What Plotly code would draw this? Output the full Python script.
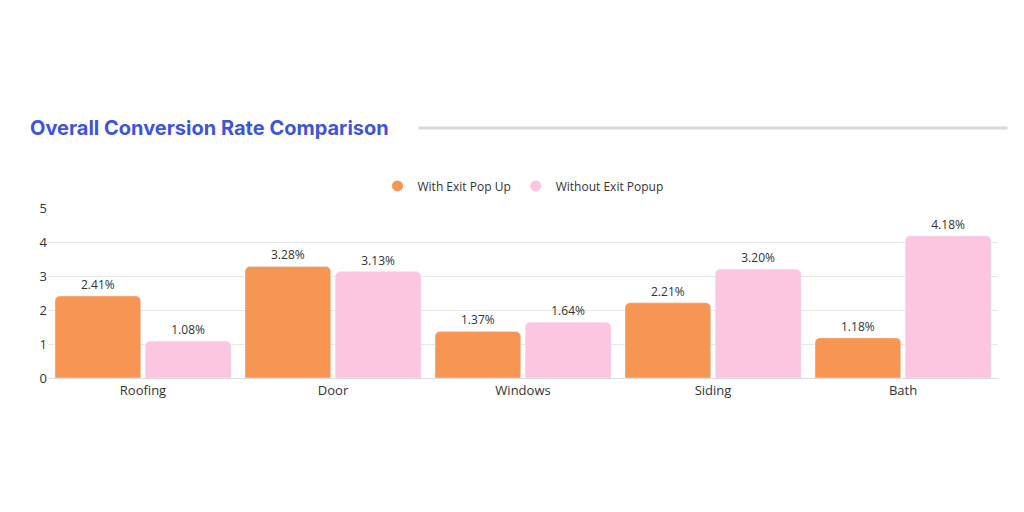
import plotly.graph_objects as go

categories = ["Roofing", "Door", "Windows", "Siding", "Bath"]
with_popup = [2.41, 3.28, 1.37, 2.21, 1.18]
without_popup = [1.08, 3.13, 1.64, 3.20, 4.18]
series_names = ["With Exit Pop Up", "Without Exit Popup"]
colors = ["#F79552", "#FDC6E0"]

fig = go.Figure()
for name, vals, c in zip(series_names, [with_popup, without_popup], colors):
    fig.add_trace(go.Bar(x=categories, y=vals, name=name, marker_color=c,
                         text=[f"{v:.2f}%" for v in vals], textposition="outside",
                         textfont=dict(size=12, color="#333"), cliponaxis=False,
                         showlegend=False))
    fig.add_trace(go.Scatter(x=[None], y=[None], mode="markers", name=name,
                             marker=dict(symbol="circle", size=11, color=c)))

fig.update_layout(
    width=1024, height=512, paper_bgcolor="white", plot_bgcolor="white",
    margin=dict(l=40, r=34, t=200, b=142),
    font=dict(family="Open Sans", size=12, color="#333"),
    barmode="group", bargap=0.05, bargroupgap=0.05, barcornerradius=5,
    legend=dict(orientation="h", x=0.5, xanchor="center", y=1.13, yanchor="middle",
                font=dict(size=12, color="#333")),
    xaxis=dict(showline=True, linecolor="#ddd", tickfont=dict(size=13)),
    yaxis=dict(range=[0, 5], dtick=1, gridcolor="#e8e8e8", zeroline=False,
               tickfont=dict(size=13)),
    annotations=[dict(text="<b>Overall Conversion Rate Comparison</b>", xref="paper", yref="paper",
                      x=-0.021, y=1.47, xanchor="left", yanchor="middle", showarrow=False,
                      font=dict(family="Inter", size=20, color="#3D55D6"))],
    shapes=[dict(type="line", xref="paper", yref="paper", x0=0.39, x1=1.01, y0=1.47, y1=1.47,
                 line=dict(color="#d9d9d9", width=3))],
)
fig.write_html("out.html")
